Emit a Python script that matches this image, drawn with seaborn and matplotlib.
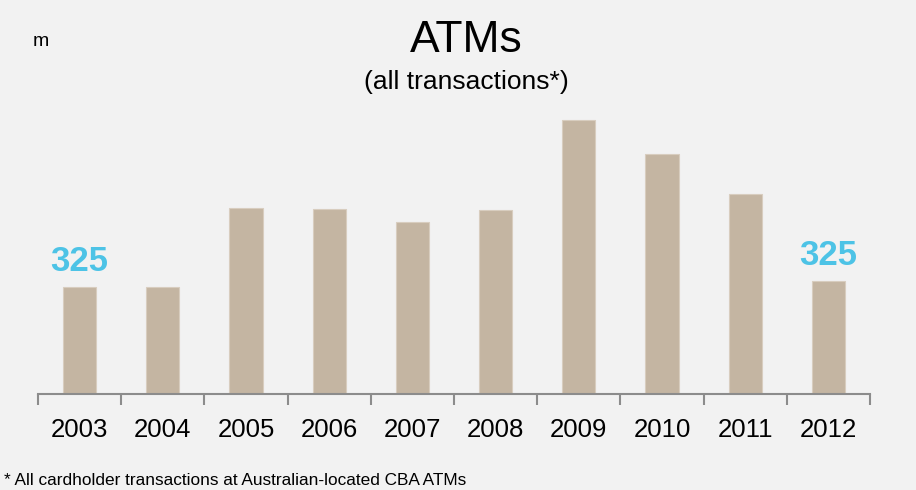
import matplotlib.pyplot as plt
import pandas as pd
import seaborn as sns

# data (millions of transactions)
years = ['2003', '2004', '2005', '2006', '2007', '2008', '2009', '2010', '2011', '2012']
transactions = [325, 326, 568, 565, 525, 562, 835, 732, 610, 345]
labels = {'2003': '325', '2012': '325'}

df = pd.DataFrame({'year': years, 'value': transactions})

sns.set_style('white')
plt.rcParams['font.family'] = ['Liberation Sans', 'DejaVu Sans']
plt.rcParams['text.color'] = 'black'

bg = '#f2f2f2'
fig = plt.figure(figsize=(9.16, 4.9), dpi=100, facecolor=bg)
ax = fig.add_axes([38 / 916, 96 / 490, 832 / 916, 295 / 490], facecolor=bg)

sns.barplot(data=df, x='year', y='value', color='#c4b5a2', width=0.4,
            saturation=1, edgecolor='#d8cdbf', linewidth=0.8, ax=ax)

ax.set_xlim(-0.5, len(years) - 0.5)
ax.set_ylim(0, 900)
ax.set_xlabel('')
ax.set_ylabel('')
ax.set_yticks([])

for s in ['top', 'right', 'left']:
    ax.spines[s].set_visible(False)
ax.spines['bottom'].set_color('#8c8c8c')
ax.spines['bottom'].set_linewidth(1.5)

# tick marks sit between the bars, labels sit under them
ax.set_xticks([i - 0.5 for i in range(len(years) + 1)], minor=True)
ax.tick_params(axis='x', which='minor', direction='out', length=8, width=1.5,
               color='#8c8c8c', bottom=True)
ax.tick_params(axis='x', which='major', length=0, pad=17, labelsize=18.5,
               labelcolor='black')

for i, y in enumerate(years):
    if y in labels:
        ax.text(i, transactions[i] + 28, labels[y], ha='center', va='bottom',
                fontsize=25, fontweight='bold', color='#4dc3e6')

fig.text(466 / 916, 1 - 40 / 490, 'ATMs', ha='center', va='center', fontsize=32)
fig.text(466 / 916, 1 - 82 / 490, '(all transactions*)', ha='center', va='center',
         fontsize=19)
fig.text(33 / 916, 1 - 41 / 490, 'm', ha='left', va='center', fontsize=14)
fig.text(4 / 916, 1 - 480 / 490,
         '* All cardholder transactions at Australian-located CBA ATMs',
         ha='left', va='center', fontsize=12.4)

fig.savefig('out.png', dpi=100, facecolor=bg)
